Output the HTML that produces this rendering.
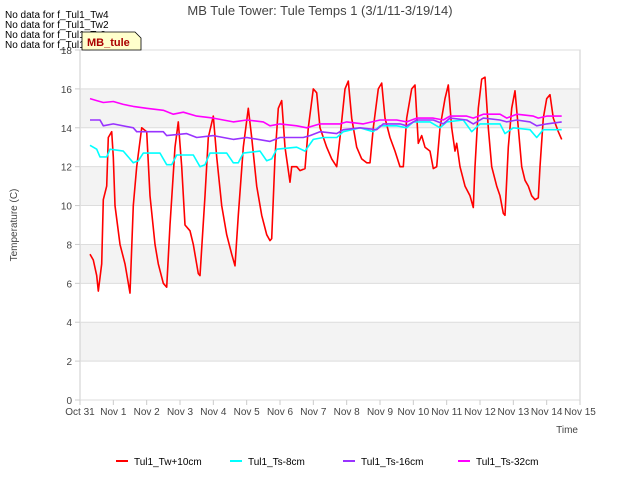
<!DOCTYPE html>
<html><head><meta charset="utf-8">
<style>
body{margin:0;background:#fff;font-family:"Liberation Sans",sans-serif;}
svg text{font-family:"Liberation Sans",sans-serif;}
</style></head>
<body>
<svg id="c" width="640" height="480" xmlns="http://www.w3.org/2000/svg">
<rect x="0" y="0" width="640" height="480" fill="#fff"/>
<g id="bands"></g>
<rect x="80" y="50" width="500" height="350" fill="none" stroke="#ccc"/>
<g id="ticks"></g>
<g id="series"></g>
<text x="320" y="15" font-size="13" fill="#444" text-anchor="middle">MB Tule Tower: Tule Temps 1 (3/1/11-3/19/14)</text>
<text x="17" y="225" font-size="10" fill="#444" text-anchor="middle" transform="rotate(-90 17 225)">Temperature (C)</text>
<text x="578" y="433" font-size="10" fill="#444" text-anchor="end">Time</text>
<g font-size="10" fill="#000">
<text x="5" y="18">No data for f_Tul1_Tw4</text>
<text x="5" y="28">No data for f_Tul1_Tw2</text>
<text x="5" y="38">No data for f_Tul1_Ts2</text>
<text x="5" y="48">No data for f_Tul1_Ts4</text>
</g>
<g>
<path d="M82 32 H135 L141 38 V50 H82 Z" fill="#ffffcc" stroke="#000" stroke-width="0.8"/>
<text x="87" y="46" font-size="11" font-weight="bold" fill="#aa0000">MB_tule</text>
</g>
<g id="legend"></g>
</svg>
<script>
const tw_days=[0.3,0.4,0.5,0.55,0.65,0.7,0.8,0.85,0.95,1.0,1.05,1.2,1.35,1.5,1.6,1.7,1.85,2.0,2.1,2.25,2.35,2.5,2.6,2.7,2.85,2.95,3.05,3.15,3.3,3.4,3.55,3.6,3.75,3.85,4.0,4.1,4.25,4.4,4.55,4.65,4.75,4.9,5.05,5.15,5.3,5.45,5.6,5.7,5.75,5.85,5.95,6.05,6.15,6.3,6.35,6.5,6.6,6.75,6.85,7.0,7.1,7.2,7.4,7.55,7.7,7.8,7.95,8.05,8.15,8.3,8.45,8.6,8.7,8.8,8.95,9.05,9.15,9.3,9.45,9.6,9.7,9.8,9.95,10.05,10.15,10.25,10.35,10.5,10.6,10.7,10.8,10.95,11.05,11.15,11.25,11.3,11.4,11.55,11.7,11.8,11.85,11.95,12.05,12.15,12.25,12.35,12.5,12.6,12.7,12.75,12.85,12.95,13.05,13.15,13.25,13.35,13.45,13.55,13.65,13.75,13.8,13.9,14.0,14.1,14.2,14.35,14.45];
const tw_vals=[7.5,7.2,6.4,5.6,7,10.3,11,13.5,13.8,12.5,10,8,7,5.5,10,12,14,13.8,10.5,8,7,6,5.8,9,13,14.3,12,9,8.7,8,6.5,6.4,10.5,13.5,14.6,12.5,10,8.5,7.5,6.9,9.5,13,15,13.5,11,9.5,8.5,8.2,8.3,12.5,15,15.4,13,11.2,12,12,11.8,11.9,14,16,15.8,14,13,12.4,12,13.5,16,16.4,14.5,13,12.4,12.2,12.2,14,16,16.3,14.5,13.5,12.8,12,12,14.5,16,16.2,13.2,13.6,13,12.8,11.9,12,14,15.5,16.2,14,12.8,13.2,12,11,10.5,9.9,12,15,16.5,16.6,14,12,11,10.5,9.6,9.5,13,15,15.9,14,12,11.3,11,10.5,10.3,10.4,12,14.5,15.5,15.7,14.5,13.8,13.4];
const ts8_days=[0.3,0.5,0.6,0.8,0.9,1.3,1.6,1.75,1.9,2.4,2.6,2.75,2.9,3.4,3.6,3.75,3.9,4.4,4.6,4.75,4.9,5.4,5.6,5.75,5.9,6.5,6.75,7.0,7.3,7.7,7.9,8.4,8.8,9.0,9.5,9.8,10.0,10.5,10.8,11.0,11.5,11.75,12.0,12.6,12.75,13.0,13.5,13.7,13.9,14.45];
const ts8_vals=[13.1,12.9,12.5,12.5,12.9,12.8,12.2,12.3,12.7,12.7,12.1,12.1,12.6,12.6,12.0,12.1,12.7,12.7,12.2,12.2,12.7,12.8,12.3,12.4,12.9,13,12.8,13.4,13.5,13.5,13.8,14,13.8,14.1,14.1,14.0,14.3,14.3,14,14.3,14.4,13.8,14.2,14.2,13.7,14.0,13.9,13.5,13.9,13.9];
const ts16_days=[0.3,0.6,0.7,1.0,1.6,1.7,2.5,2.6,3.2,3.5,4.0,4.6,5.0,5.7,6.0,6.7,6.9,7.2,7.7,7.9,8.4,8.9,9.1,9.6,9.8,10.1,10.6,10.9,11.1,11.6,11.8,12.1,12.6,12.8,13.1,13.5,13.7,14.0,14.45];
const ts16_vals=[14.4,14.4,14.1,14.2,14.0,13.8,13.8,13.6,13.7,13.5,13.6,13.4,13.5,13.3,13.5,13.5,13.6,13.8,13.7,13.9,14.0,13.9,14.2,14.2,14.1,14.4,14.4,14.2,14.5,14.4,14.2,14.5,14.4,14.3,14.4,14.3,14.1,14.2,14.3];
const ts32_days=[0.3,0.5,0.7,1.0,1.3,1.6,2.0,2.5,2.8,3.1,3.5,4.0,4.6,5.0,5.5,5.7,6.0,6.5,6.8,7.2,7.8,8.0,8.5,9.0,9.5,9.8,10.1,10.6,10.9,11.1,11.6,11.8,12.1,12.6,12.8,13.1,13.6,13.75,14.0,14.45];
const ts32_vals=[15.5,15.4,15.3,15.35,15.2,15.1,15.0,14.9,14.7,14.8,14.6,14.5,14.3,14.4,14.3,14.1,14.2,14.1,14.0,14.2,14.2,14.3,14.2,14.4,14.4,14.3,14.5,14.5,14.4,14.6,14.6,14.5,14.7,14.7,14.5,14.7,14.6,14.5,14.6,14.6];
const x_labels=["Oct 31","Nov 1","Nov 2","Nov 3","Nov 4","Nov 5","Nov 6","Nov 7","Nov 8","Nov 9","Nov 10","Nov 11","Nov 12","Nov 13","Nov 14","Nov 15"];
const y_ticks=[0,2,4,6,8,10,12,14,16,18];
const series_names=["Tul1_Tw+10cm","Tul1_Ts-8cm","Tul1_Ts-16cm","Tul1_Ts-32cm"];
const series_colors=["#ff0000","#00ffff","#9933ff","#ff00ff"];

const NS="http://www.w3.org/2000/svg";
const X=d=>80+d*500/15, Y=v=>400-v*350/18;
function mk(tag,attrs,parent){const e=document.createElementNS(NS,tag);for(const k in attrs)e.setAttribute(k,attrs[k]);parent.appendChild(e);return e;}
const bands=document.getElementById('bands'),ticks=document.getElementById('ticks'),ser=document.getElementById('series'),leg=document.getElementById('legend');
for(let v=0;v<18;v+=2){
  if((v/2)%2===1){const r=mk('rect',{x:80,y:Y(v+2),width:500,height:Y(v)-Y(v+2),fill:'#f3f3f3'},bands);
  
  }
}
y_ticks.forEach(v=>{
  const l=mk('line',{x1:80,x2:580,y1:Y(v),y2:Y(v),stroke:'#ddd'},ticks);
  
  
  const t=mk('text',{x:72,y:Y(v)+4,'font-size':10,fill:'#444','text-anchor':'end'},ticks);t.textContent=v;
  
  
  mk('line',{x1:75,x2:80,y1:Y(v),y2:Y(v),stroke:'#ccc'},ticks);
});
x_labels.forEach((s,i)=>{
  const t=mk('text',{x:X(i),y:415,'font-size':10,fill:'#444','text-anchor':'middle'},ticks);t.textContent=s;
  
  
  mk('line',{x1:X(i),x2:X(i),y1:400,y2:405,stroke:'#ccc'},ticks);
});
const all=[[tw_days,tw_vals],[ts8_days,ts8_vals],[ts16_days,ts16_vals],[ts32_days,ts32_vals]];
all.forEach((s,i)=>{
  const d=s[0].map((dd,j)=>(j?'L':'M')+X(dd).toFixed(1)+' '+Y(s[1][j]).toFixed(1)).join(' ');
  const p=mk('path',{d:d,fill:'none',stroke:series_colors[i],'stroke-width':1.6,'stroke-linejoin':'round'},ser);
  
  
});
const lx=[116,230,343,458];
series_names.forEach((n,i)=>{
  const g=mk('g',{},leg);
  
  
  mk('line',{x1:lx[i],x2:lx[i]+12,y1:461,y2:461,stroke:series_colors[i],'stroke-width':2},g);
  const t=mk('text',{x:lx[i]+18,y:465,'font-size':10,fill:'#000'},g);t.textContent=n;
});
</script>
</body></html>
